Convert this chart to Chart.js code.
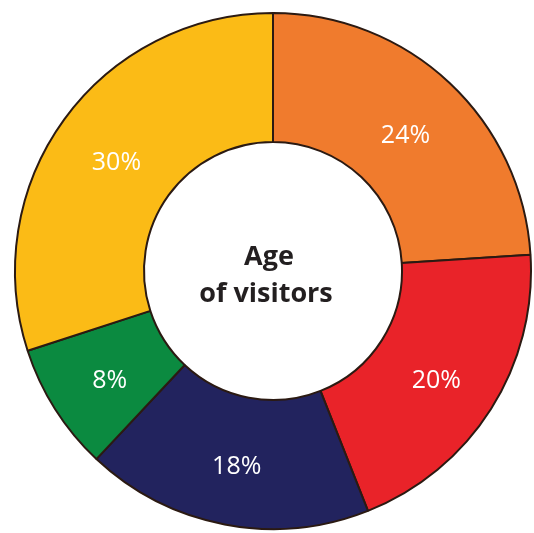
<!DOCTYPE html>
<html>
<head>
<meta charset="utf-8">
<script src="https://cdn.jsdelivr.net/npm/chart.js@4"></script>
<style>
    html, body { margin: 0; padding: 0; background: #fff; }
    #wrap { width: 534px; height: 533px; position: relative; }
</style>
</head>
<body>
<div id="wrap"><canvas id="chart"></canvas></div>
<script>
    // Chart data
    const categories = ['A', 'B', 'C', 'D', 'E'];
    const shares = [24, 20, 18, 8, 30];
    const sliceColors = ['#F07B2D', '#E92329', '#22235E', '#0B8A40', '#FBBB16'];
    const centerLines = ['Age', 'of visitors'];

    // Draws the percentage in each slice and the caption in the hole
    const labelPlugin = {
        id: 'labels',
        afterDatasetsDraw(chart) {
            const ctx = chart.ctx;
            const meta = chart.getDatasetMeta(0);
            ctx.save();
            ctx.fillStyle = '#ffffff';
            ctx.font = "25px 'Open Sans', sans-serif";
            ctx.textAlign = 'center';
            ctx.textBaseline = 'middle';
            meta.data.forEach((arc, i) => {
                const p = arc.getCenterPoint();
                ctx.fillText(shares[i] + '%', p.x, p.y + 6);
            });

            const first = meta.data[0];
            ctx.fillStyle = '#231F20';
            ctx.font = "bold 27px 'Open Sans', sans-serif";
            ctx.fillText(centerLines[0], first.x - 4, first.y - 14);
            ctx.fillText(centerLines[1], first.x - 7, first.y + 23);
            ctx.restore();
        }
    };

    new Chart(document.getElementById('chart'), {
        type: 'doughnut',
        data: {
            labels: categories,
            datasets: [{
                data: shares,
                backgroundColor: sliceColors,
                borderColor: '#2B1A12',
                borderWidth: 2
            }]
        },
        options: {
            responsive: true,
            maintainAspectRatio: false,
            animation: false,
            cutout: '50%',
            layout: {
                padding: { left: 14, right: 2, top: 12, bottom: 3 }
            },
            plugins: {
                legend: { display: false },
                tooltip: { enabled: false }
            }
        },
        plugins: [labelPlugin]
    });
</script>
</body>
</html>
